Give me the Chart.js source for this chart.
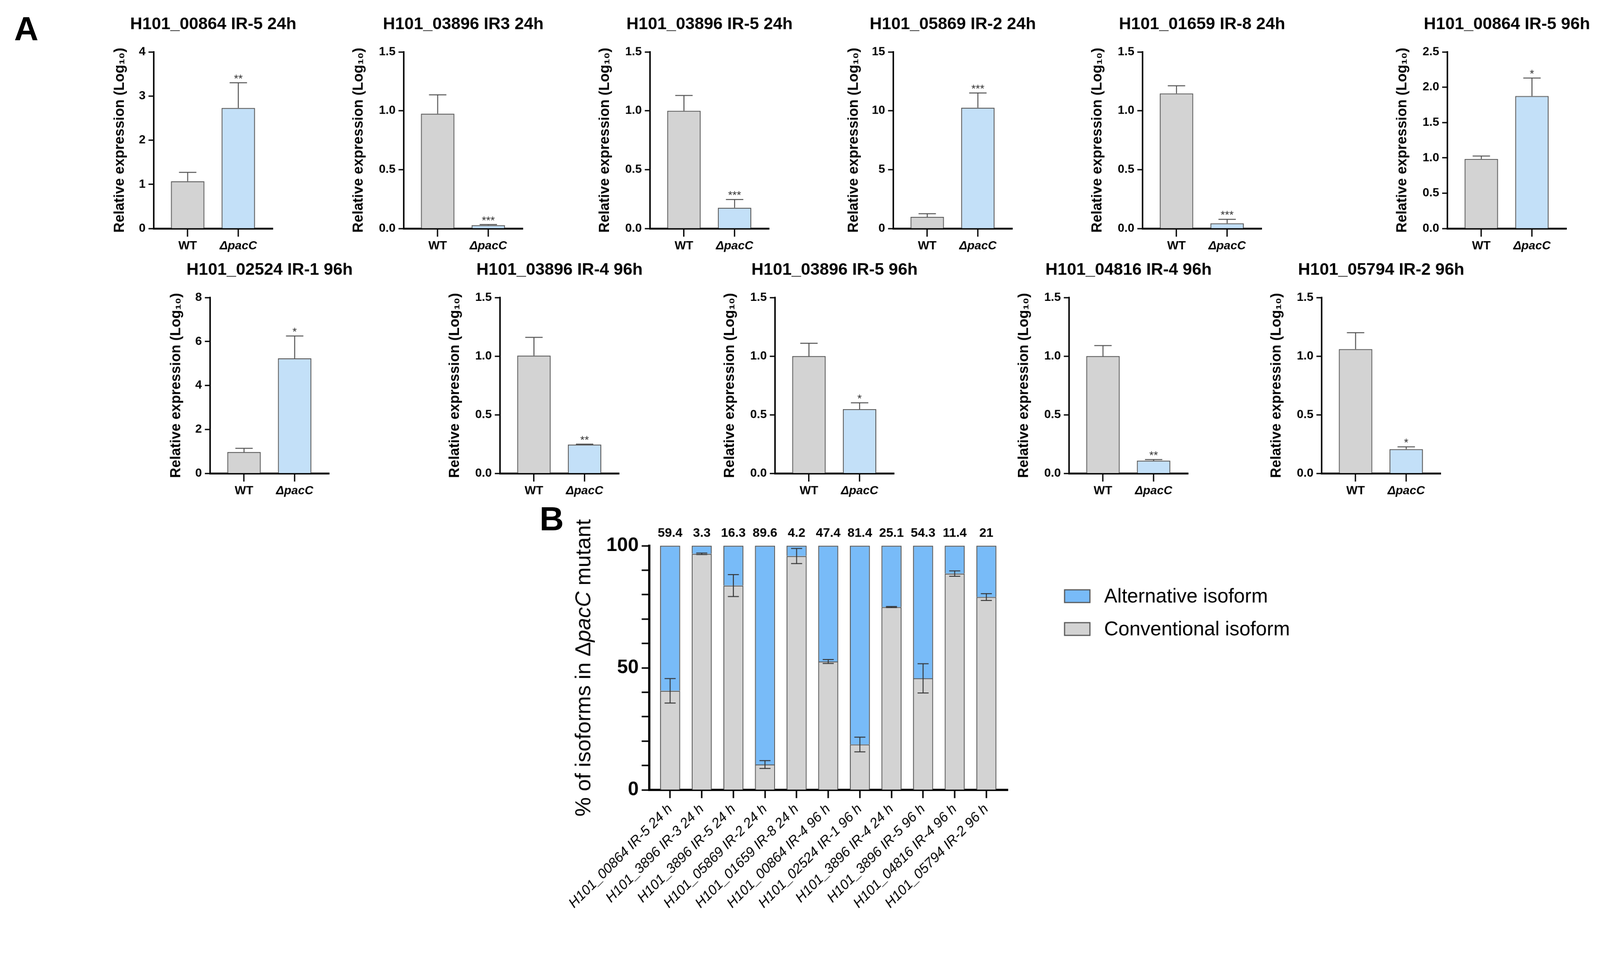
<!DOCTYPE html>
<html>
<head>
  <title>pacC isoform expression</title>
  <script src="https://cdn.jsdelivr.net/npm/chart.js"></script>
  <style>
    html, body {
      margin: 0;
      background: #fff;
      overflow: hidden;
      font-family: 'Liberation Sans', Arial, sans-serif;
    }
    #wrap {
      position: relative;
      width: 4288px;
      height: 2477px;
      overflow: hidden;
      transform-origin: 0 0;
    }
    canvas {
      position: absolute;
    }
    .tag {
      position: absolute;
      font-weight: bold;
      font-size: 90px;
      line-height: 1;
    }
  </style>
</head>
<body>
  <div id="wrap">
    <div class="tag" style="left:38px;top:32px">A</div>
    <div class="tag" style="left:1446px;top:1345px">B</div>
  </div>
  <script>
    // ---- panel A: relative expression, WT vs mutant ----
    const groups = ['WT', 'ΔpacC'];
    const titlesA = [
      'H101_00864 IR-5 24h', 'H101_03896 IR3 24h', 'H101_03896 IR-5 24h',
      'H101_05869 IR-2 24h', 'H101_01659 IR-8 24h', 'H101_00864 IR-5 96h',
      'H101_02524 IR-1 96h', 'H101_03896 IR-4 96h', 'H101_03896 IR-5 96h',
      'H101_04816 IR-4 96h', 'H101_05794 IR-2 96h'
    ];
    const wtMean  = [1.07, 0.975, 1.0, 0.98, 1.147, 0.985, 0.97, 1.005, 1.0, 1.0, 1.06];
    const wtErr   = [0.20, 0.16, 0.13, 0.27, 0.065, 0.04, 0.17, 0.155, 0.11, 0.09, 0.14];
    const mutMean = [2.73, 0.028, 0.176, 10.26, 0.044, 1.875, 5.23, 0.245, 0.548, 0.108, 0.206];
    const mutErr  = [0.57, 0.005, 0.07, 1.25, 0.034, 0.255, 1.02, 0.004, 0.054, 0.01, 0.02];
    const stars   = ['**', '***', '***', '***', '***', '*', '*', '**', '*', '**', '*'];
    const yMax    = [4, 1.5, 1.5, 15, 1.5, 2.5, 8, 1.5, 1.5, 1.5, 1.5];
    const yStep   = [1, 0.5, 0.5, 5, 0.5, 0.5, 2, 0.5, 0.5, 0.5, 0.5];

    // ---- panel B: isoform share in the mutant ----
    const isoLabels = [
      'H101_00864 IR-5 24 h', 'H101_3896 IR-3 24 h', 'H101_3896 IR-5 24 h',
      'H101_05869 IR-2 24 h', 'H101_01659 IR-8 24 h', 'H101_00864 IR-4 96 h',
      'H101_02524 IR-1 96 h', 'H101_3896 IR-4 24 h', 'H101_3896 IR-5 96 h',
      'H101_04816 IR-4 96 h', 'H101_05794 IR-2 96 h'
    ];
    const altPct  = [59.4, 3.3, 16.3, 89.6, 4.2, 47.4, 81.4, 25.1, 54.3, 11.4, 21];
    const convPct = [40.6, 96.7, 83.7, 10.4, 95.8, 52.6, 18.6, 74.9, 45.7, 88.6, 79];
    const convErr = [5, 0.3, 4.5, 1.6, 3.1, 0.8, 3, 0.2, 6, 1.1, 1.4];

    // layout (page pixels)
    const axisX = [412, 1082, 1742, 2394, 3062, 3879, 563, 1340, 2077, 2865, 3542];
    const rowOf = [0, 0, 0, 0, 0, 0, 1, 1, 1, 1, 1];
    const rowTop = [139, 797];
    const rowH = [473, 471];
    const PW = 319, TOPH = 120, XH = 100, RPAD = 90;

    const family = "'Liberation Sans', Arial, Helvetica, sans-serif";
    Chart.defaults.font.family = family;
    Chart.defaults.color = '#000';

    const grey = '#d3d3d3';
    const paleBlue = '#c3e0f8';
    const blue = '#78bbf8';
    const wrap = document.getElementById('wrap');

    // keep the 4288x2477 figure inside the viewport whatever its css size
    const fit = Math.min(window.innerWidth / 4288, window.innerHeight / 2477);
    if (fit < 0.999) wrap.style.transform = 'scale(' + fit + ')';

    function addCanvas(left, top, w, h) {
      const cv = document.createElement('canvas');
      cv.width = w; cv.height = h;
      cv.style.left = left + 'px'; cv.style.top = top + 'px';
      cv.style.width = w + 'px'; cv.style.height = h + 'px';
      wrap.appendChild(cv);
      return cv;
    }

    // error bars (and optional marks) drawn on top of the bars
    const errBars = {
      id: 'errBars',
      afterDatasetsDraw(chart, args, o) {
        const ctx = chart.ctx, y = chart.scales.y;
        ctx.save();
        ctx.strokeStyle = o.color;
        ctx.lineWidth = o.width;
        chart.getDatasetMeta(o.dataset).data.forEach((bar, j) => {
          const v = o.values[j], e = o.errors[j];
          const top = y.getPixelForValue(v + e);
          const bot = o.both ? y.getPixelForValue(v - e) : bar.y;
          const half = bar.width * o.cap / 2;
          ctx.beginPath();
          ctx.moveTo(bar.x, top); ctx.lineTo(bar.x, bot);
          ctx.moveTo(bar.x - half, top); ctx.lineTo(bar.x + half, top);
          if (o.both) { ctx.moveTo(bar.x - half, bot); ctx.lineTo(bar.x + half, bot); }
          ctx.stroke();
          if (o.marks && o.marks[j]) {
            ctx.fillStyle = '#333';
            ctx.font = '30px ' + family;
            ctx.textAlign = 'center';
            ctx.textBaseline = 'alphabetic';
            ctx.fillText(o.marks[j], bar.x, top - 2);
          }
        });
        ctx.restore();
      }
    };

    // title centred over the plot area
    const panelTitle = {
      id: 'panelTitle',
      afterDraw(chart, args, o) {
        const ctx = chart.ctx, a = chart.chartArea;
        ctx.save();
        ctx.font = 'bold 45px ' + family;
        ctx.fillStyle = '#000';
        ctx.textAlign = 'center';
        ctx.textBaseline = 'middle';
        ctx.fillText(o.text, (a.left + a.right) / 2, a.top - 73);
        ctx.restore();
      }
    };

    function makePanel(i) {
      const r = rowOf[i];
      const decimals = Number.isInteger(yStep[i]) ? 0 : 1;
      // room for the y title grows with the widest tick label
      const YW = 113 + (yMax[i].toFixed(decimals).length - 1) * 15;
      const W = YW + PW + RPAD, H = TOPH + rowH[r] + XH;
      const cv = addCanvas(axisX[i] - YW, rowTop[r] - TOPH, W, H);
      new Chart(cv, {
        type: 'bar',
        data: {
          datasets: [{
            data: [{ x: 0, y: wtMean[i] }, { x: 1, y: mutMean[i] }],
            backgroundColor: [grey, paleBlue],
            borderColor: '#555',
            borderWidth: 2.5,
            barPercentage: 0.66,
            categoryPercentage: 1
          }]
        },
        options: {
          responsive: false,
          animation: false,
          devicePixelRatio: 1,
          layout: { padding: { top: TOPH, right: RPAD, left: 0, bottom: 0 } },
          plugins: {
            legend: { display: false },
            tooltip: { enabled: false },
            panelTitle: { text: titlesA[i] },
            errBars: {
              dataset: 0, values: [wtMean[i], mutMean[i]], errors: [wtErr[i], mutErr[i]],
              marks: ['', stars[i]], both: false, cap: 0.52, color: '#4a4a4a', width: 2.5
            }
          },
          scales: {
            x: {
              type: 'linear', min: -0.67, max: 1.68, offset: false,
              afterBuildTicks: s => { s.ticks = [{ value: 0 }, { value: 1 }]; },
              afterFit: s => { s.height = XH; },
              ticks: {
                callback: v => groups[v],
                font: c => ({ size: 32, weight: 'bold', style: c.index === 1 ? 'italic' : 'normal' }),
                padding: 6, maxRotation: 0
              },
              grid: { drawOnChartArea: false, offset: false, tickLength: 22, tickWidth: 3.5, tickColor: '#000' },
              border: { color: '#000', width: 5 }
            },
            y: {
              min: 0, max: yMax[i],
              afterFit: s => { s.width = YW; },
              ticks: {
                stepSize: yStep[i],
                callback: v => v.toFixed(decimals),
                font: { size: 32, weight: 'bold' },
                padding: 8
              },
              grid: { drawOnChartArea: false, tickLength: 14, tickWidth: 3.5, tickColor: '#000' },
              border: { color: '#000', width: 4 },
              title: {
                display: true, text: 'Relative expression (Log₁₀)', color: '#000',
                font: { size: 38, weight: 'bold' }, padding: 0
              }
            }
          }
        },
        plugins: [errBars, panelTitle]
      });
    }
    titlesA.forEach((t, i) => makePanel(i));

    // ---- panel B ----
    const topLabels = {
      id: 'topLabels',
      afterDatasetsDraw(chart) {
        const ctx = chart.ctx, y = chart.scales.y;
        ctx.save();
        ctx.font = 'bold 34px ' + family;
        ctx.fillStyle = '#000';
        ctx.textAlign = 'center';
        ctx.textBaseline = 'middle';
        chart.getDatasetMeta(1).data.forEach((bar, j) => {
          ctx.fillText(String(altPct[j]), bar.x, y.getPixelForValue(100) - 33);
        });
        ctx.restore();
      }
    };

    const sideTitle = {
      id: 'sideTitle',
      afterDraw(chart) {
        const ctx = chart.ctx, a = chart.chartArea;
        const parts = [['% of isoforms in Δ', 'normal'], ['pacC', 'italic'], [' mutant', 'normal']];
        ctx.save();
        ctx.translate(a.left - 174, (a.top + a.bottom) / 2);
        ctx.rotate(-Math.PI / 2);
        ctx.fillStyle = '#000';
        ctx.textBaseline = 'middle';
        let total = 0;
        parts.forEach(p => { ctx.font = p[1] + ' 58px ' + family; total += ctx.measureText(p[0]).width; });
        let x = -total / 2;
        parts.forEach(p => {
          ctx.font = p[1] + ' 58px ' + family;
          ctx.fillText(p[0], x, 0);
          x += ctx.measureText(p[0]).width;
        });
        ctx.restore();
      }
    };

    const boxLegend = {
      id: 'boxLegend',
      afterDraw(chart) {
        const ctx = chart.ctx, a = chart.chartArea;
        const sets = chart.data.datasets.slice().reverse();
        ctx.save();
        ctx.font = '53px ' + family;
        ctx.textBaseline = 'middle';
        sets.forEach((ds, k) => {
          const cy = a.top + 135 + k * 88;
          const bx = a.right + 152;
          ctx.fillStyle = ds.backgroundColor;
          ctx.fillRect(bx, cy - 17, 68, 34);
          ctx.strokeStyle = '#555';
          ctx.lineWidth = 3;
          ctx.strokeRect(bx, cy - 17, 68, 34);
          ctx.fillStyle = '#000';
          ctx.fillText(ds.label, bx + 106, cy + 2);
        });
        ctx.restore();
      }
    };

    const BYW = 208, BPW = 982, BPH = 654, BTOP = 80, BRIGHT = 900, BXH = 361;
    const cvB = addCanvas(1719 - BYW, 1462 - BTOP, BYW + BPW + BRIGHT, BTOP + BPH + BXH);
    new Chart(cvB, {
      type: 'bar',
      data: {
        datasets: [
          {
            label: 'Conventional isoform',
            data: convPct.map((v, j) => ({ x: j, y: v })),
            backgroundColor: grey, borderColor: '#555', borderWidth: 2.5,
            barPercentage: 0.635, categoryPercentage: 1
          },
          {
            label: 'Alternative isoform',
            data: altPct.map((v, j) => ({ x: j, y: v })),
            backgroundColor: blue, borderColor: '#555', borderWidth: 2.5,
            barPercentage: 0.635, categoryPercentage: 1
          }
        ]
      },
      options: {
        responsive: false,
        animation: false,
        devicePixelRatio: 1,
        layout: { padding: { top: BTOP, right: BRIGHT, left: 0, bottom: 0 } },
        plugins: {
          legend: { display: false },
          tooltip: { enabled: false },
          errBars: {
            dataset: 0, values: convPct, errors: convErr, both: true,
            cap: 0.55, color: '#333', width: 2.5
          }
        },
        scales: {
          x: {
            type: 'linear', stacked: true, min: -0.664, max: 10.68, offset: false,
            afterBuildTicks: s => { s.ticks = isoLabels.map((l, j) => ({ value: j })); },
            afterFit: s => { s.height = BXH; },
            ticks: {
              callback: v => isoLabels[v],
              font: { size: 37, style: 'italic' },
              minRotation: 45, maxRotation: 45, autoSkip: false, padding: 8
            },
            grid: { drawOnChartArea: false, offset: false, tickLength: 22, tickWidth: 4, tickColor: '#000' },
            border: { color: '#000', width: 6 }
          },
          y: {
            stacked: true, min: 0, max: 100,
            afterFit: s => { s.width = BYW; },
            ticks: {
              stepSize: 5,
              callback: v => (v % 50 === 0 ? v : ''),
              font: { size: 52, weight: 'bold' },
              padding: 8
            },
            grid: { drawOnChartArea: false, tickLength: 20, tickWidth: 4, tickColor: '#000' },
            border: { color: '#000', width: 6 }
          }
        }
      },
      plugins: [errBars, topLabels, sideTitle, boxLegend]
    });
  </script>
</body>
</html>
